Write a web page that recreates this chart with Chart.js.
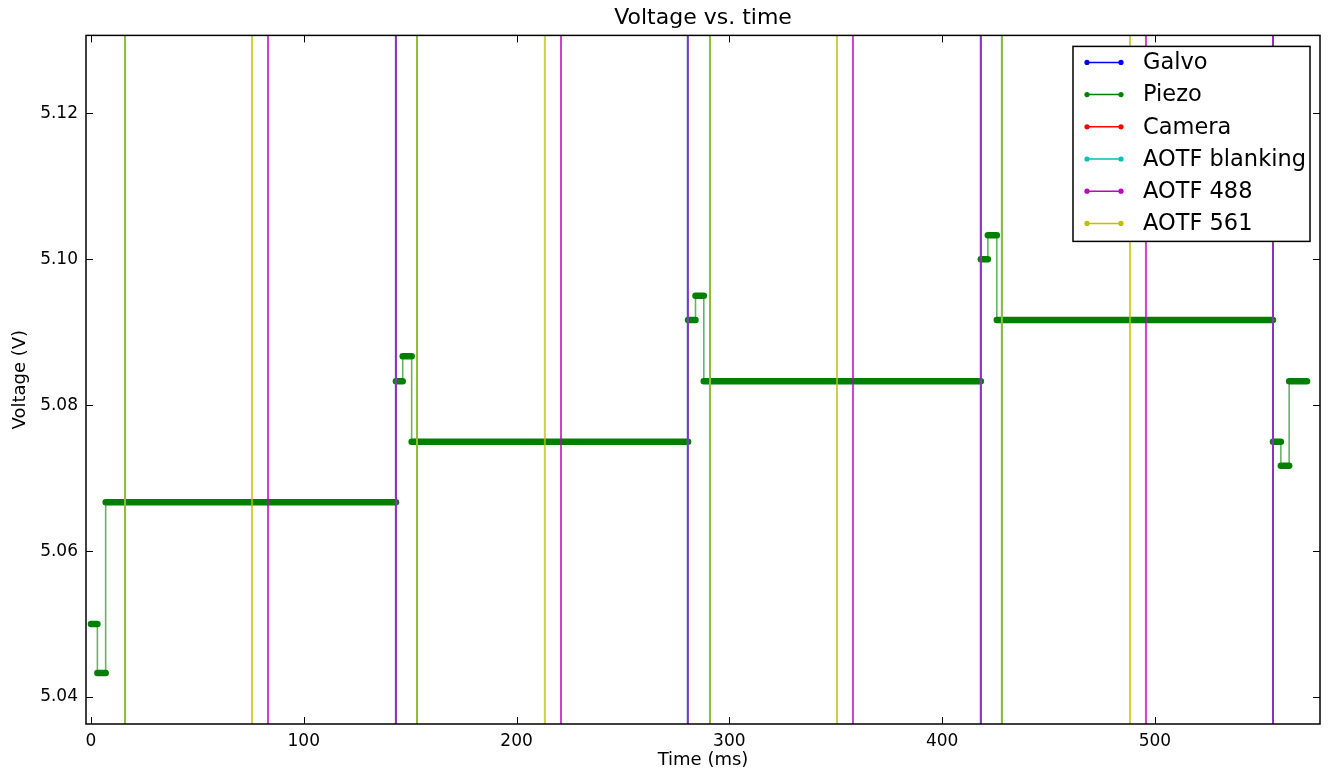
<!DOCTYPE html>
<html>
<head>
<meta charset="utf-8">
<title>Voltage vs. time</title>
<script src="https://cdn.jsdelivr.net/npm/chart.js@4.4.1/dist/chart.umd.min.js"></script>
<style>
  html, body { margin: 0; padding: 0; background: #fff; }
  #wrap { width: 1329px; height: 771px; }
</style>
</head>
<body>
<div id="wrap"><canvas id="voltage-chart"></canvas></div>
<script>
// piezo steps: edges in ms, and the level held between two edges (V)
var piezoEdges = [0, 3.0, 6.9, 143.3, 146.5, 150.7, 280.6, 284.1, 288.0, 418.2, 421.5, 425.7, 555.5, 559.2, 563.1, 571.5];
var piezoVolts = [5.0500, 5.0433, 5.0667, 5.0833, 5.0867, 5.0750, 5.0917, 5.0950, 5.0833, 5.1000, 5.1033, 5.0917, 5.0750, 5.0717, 5.0833];

// laser gating, switch on / switch off times (ms)
var blankingOn  = [16.0, 153.2, 290.9, 428.1];
var blankingOff = [143.3, 280.5, 418.2, 555.5];
var aotf488On   = [83.2, 220.9, 358.1, 495.8];
var aotf488Off  = [143.3, 280.5, 418.2, 555.5];
var aotf561On   = [16.0, 153.2, 290.9, 428.1];
var aotf561Off  = [75.7, 213.3, 350.6, 488.3];
var ttlLow = 0, ttlHigh = 10; // V, both far off the visible range

var xTicks = [0, 100, 200, 300, 400, 500];
var yTicks = [5.04, 5.06, 5.08, 5.10, 5.12];

var seriesNames = ['Galvo', 'Piezo', 'Camera', 'AOTF blanking', 'AOTF 488', 'AOTF 561'];
var seriesColors = ['#0000ff', '#008000', '#ff0000', '#00bfbf', '#bf00bf', '#bfbf00'];

var FONT = 'DejaVu Sans';

function stepPoints(edges, levels) {
  var pts = [];
  for (var i = 0; i < levels.length; i++) {
    pts.push({x: edges[i], y: levels[i]}, {x: edges[i + 1], y: levels[i]});
  }
  return pts;
}

function squareWave(on, off) {
  var pts = [];
  for (var i = 0; i < on.length; i++) {
    pts.push({x: on[i], y: ttlLow}, {x: on[i], y: ttlHigh}, {x: off[i], y: ttlHigh}, {x: off[i], y: ttlLow});
  }
  return pts;
}

function flat(c) { return c.p0.parsed.y === c.p1.parsed.y; }

var seriesData = [
  [],                                  // Galvo: nothing inside the window
  stepPoints(piezoEdges, piezoVolts),
  [],                                  // Camera: nothing inside the window
  squareWave(blankingOn, blankingOff),
  squareWave(aotf488On, aotf488Off),
  squareWave(aotf561On, aotf561Off)
];

var lineColors = ['#0000ff', '#008000', '#ff0000', '#00bfbf', 'rgba(191,0,191,0.75)', 'rgba(191,191,0,0.75)'];

var datasets = seriesNames.map(function (name, i) {
  var ds = {
    label: name,
    data: seriesData[i],
    borderColor: lineColors[i],
    borderWidth: 2,
    pointRadius: 0,
    fill: false,
    tension: 0,
    order: seriesNames.length - i // later series on top, like matplotlib
  };
  if (name === 'Piezo') {
    ds.borderCapStyle = 'round';
    ds.borderJoinStyle = 'round';
    ds.segment = {
      borderWidth: function (c) { return flat(c) ? 6.5 : 1.6; },
      borderColor: function (c) { return flat(c) ? '#008000' : 'rgba(0,128,0,0.6)'; }
    };
  }
  return ds;
});

// black frame with inward ticks on all four sides
var mplFrame = {
  id: 'mplFrame',
  afterDatasetsDraw: function (chart) {
    var ctx = chart.ctx, a = chart.chartArea, sx = chart.scales.x, sy = chart.scales.y, len = 7;
    ctx.save();
    ctx.strokeStyle = '#000';
    ctx.lineWidth = 1;
    ctx.beginPath();
    xTicks.forEach(function (v) {
      var px = Math.round(sx.getPixelForValue(v)) + 0.5;
      ctx.moveTo(px, a.bottom); ctx.lineTo(px, a.bottom - len);
      ctx.moveTo(px, a.top); ctx.lineTo(px, a.top + len);
    });
    yTicks.forEach(function (v) {
      var py = Math.round(sy.getPixelForValue(v)) + 0.5;
      ctx.moveTo(a.left, py); ctx.lineTo(a.left + len, py);
      ctx.moveTo(a.right, py); ctx.lineTo(a.right - len, py);
    });
    ctx.stroke();
    ctx.lineWidth = 1.5;
    ctx.strokeRect(a.left, a.top, a.right - a.left, a.bottom - a.top);
    ctx.restore();
  }
};

// legend box in the upper right corner, line + two dots per entry
var boxLegend = {
  id: 'boxLegend',
  afterDraw: function (chart) {
    var ctx = chart.ctx, a = chart.chartArea;
    var w = 237, h = 195, rowH = 32.2;
    var x0 = a.right - 10 - w, y0 = a.top + 11;
    ctx.save();
    ctx.fillStyle = '#fff';
    ctx.fillRect(x0, y0, w, h);
    ctx.strokeStyle = '#000';
    ctx.lineWidth = 1.5;
    ctx.strokeRect(x0, y0, w, h);
    ctx.font = '22.5px "' + FONT + '"';
    ctx.textBaseline = 'middle';
    chart.data.datasets.forEach(function (ds, i) {
      var cy = y0 + 16 + i * rowH, xa = x0 + 14, xb = x0 + 48;
      ctx.strokeStyle = seriesColors[i];
      ctx.fillStyle = seriesColors[i];
      ctx.lineWidth = 1.5;
      ctx.beginPath(); ctx.moveTo(xa, cy); ctx.lineTo(xb, cy); ctx.stroke();
      [xa, xb].forEach(function (px) {
        ctx.beginPath(); ctx.arc(px, cy, 2.6, 0, Math.PI * 2); ctx.fill();
      });
      ctx.fillStyle = '#000';
      ctx.fillText(ds.label, x0 + 70, cy + 1);
    });
    ctx.restore();
  }
};

var tickFont = { family: FONT, size: 17 };
var labelFont = { family: FONT, size: 18 };

var ctx = document.getElementById('voltage-chart').getContext('2d');
var myChart = new Chart(ctx, {
  type: 'line',
  data: { datasets: datasets },
  plugins: [mplFrame, boxLegend],
  options: {
    responsive: true,
    maintainAspectRatio: false,
    animation: false,
    layout: { padding: { left: 10, right: 9, top: 0, bottom: 0 } },
    plugins: {
      legend: { display: false },
      tooltip: { enabled: false },
      title: {
        display: true,
        fullSize: false, // center over the plot, not the canvas
        text: 'Voltage vs. time',
        color: '#000',
        font: { family: FONT, size: 22, weight: 'normal' },
        padding: { top: 5, bottom: 4 }
      }
    },
    scales: {
      x: {
        type: 'linear',
        min: -2.35,
        max: 577.6,
        grid: { display: false, drawTicks: false },
        border: { display: false },
        ticks: { color: '#000', font: tickFont, padding: 7, maxRotation: 0 },
        afterBuildTicks: function (s) { s.ticks = xTicks.map(function (v) { return {value: v}; }); },
        afterFit: function (s) { s.height = 47; },
        title: { display: true, text: 'Time (ms)', color: '#000', font: labelFont, padding: 0 }
      },
      y: {
        type: 'linear',
        min: 5.0363,
        max: 5.1307,
        grid: { display: false, drawTicks: false },
        border: { display: false },
        ticks: {
          color: '#000', font: tickFont, padding: 8,
          callback: function (v) { return v.toFixed(2); }
        },
        afterBuildTicks: function (s) { s.ticks = yTicks.map(function (v) { return {value: v}; }); },
        afterFit: function (s) { s.width = 76; },
        title: { display: true, text: 'Voltage (V)', color: '#000', font: labelFont, padding: 0 }
      }
    }
  }
});
</script>
</body>
</html>
